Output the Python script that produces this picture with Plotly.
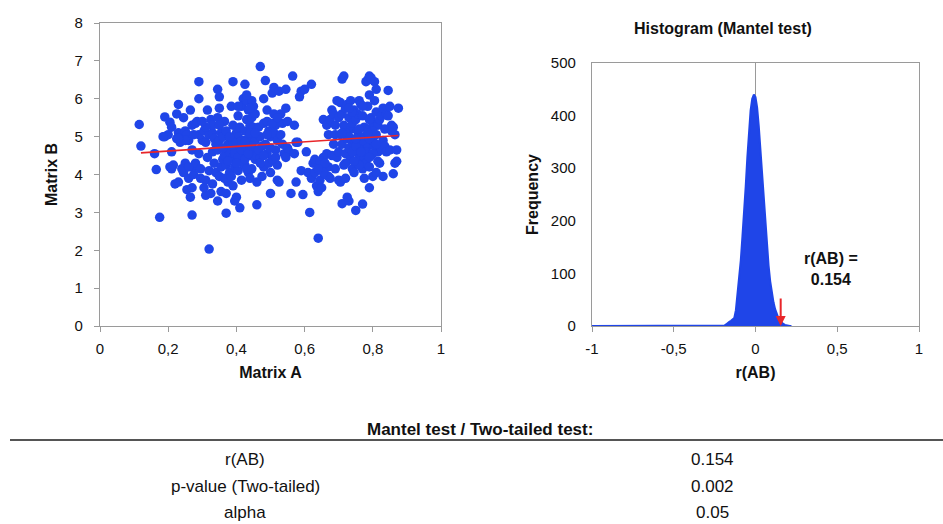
import plotly.graph_objects as go

# ---------------- data ----------------
# Scatter: Matrix A vs Matrix B
pts = [
    (0.115,5.32),(0.12,4.75),
    (0.16,4.55),(0.165,4.13),(0.175,2.87),
    (0.19,5.52),(0.19,5.0),(0.2,5.05),(0.185,5.0),
    (0.205,5.38),(0.21,5.25),(0.21,4.6),(0.205,4.2),(0.215,4.25),(0.21,4.15),
    (0.225,5.6),(0.23,5.85),(0.23,5.1),(0.225,4.95),(0.235,4.85),(0.22,3.75),(0.23,3.8),(0.24,5.0),
    (0.245,5.5),(0.25,5.15),(0.255,5.05),(0.25,4.3),(0.245,4.05),(0.26,3.9),(0.255,3.6),(0.26,4.9),
    (0.265,5.7),(0.27,5.3),(0.275,4.2),(0.265,3.4),(0.27,3.65),(0.27,2.93),(0.28,4.3),(0.275,4.0),(0.28,5.35),(0.27,4.65),
    (0.29,6.45),(0.29,6.0),(0.285,5.4),(0.29,4.55),(0.295,4.15),(0.3,4.9),(0.29,5.05),(0.295,3.9),
    (0.305,5.15),(0.31,4.85),(0.31,3.85),(0.31,3.45),(0.305,3.65),(0.315,4.45),(0.32,5.05),(0.32,2.03),(0.315,5.7),(0.32,4.1),
    (0.325,5.45),(0.33,5.1),(0.335,4.95),(0.33,4.6),(0.335,4.3),(0.33,3.75),(0.325,3.5),(0.34,4.05),(0.34,4.8),(0.33,5.3),
    (0.345,6.25),(0.35,6.05),(0.35,5.75),(0.345,5.5),(0.355,5.1),(0.35,4.9),(0.345,4.65),(0.355,4.2),(0.35,3.95),(0.345,3.3),(0.355,3.55),(0.36,5.0),(0.36,4.4),
    (0.365,5.4),(0.37,5.15),(0.375,4.8),(0.365,4.5),(0.37,4.25),(0.375,3.8),(0.37,3.5),(0.37,2.98),(0.38,4.05),(0.38,4.6),(0.365,3.9),
    (0.385,5.8),(0.39,6.45),(0.39,5.3),(0.385,4.95),(0.395,4.7),(0.39,4.45),(0.395,4.2),(0.385,3.95),(0.39,3.7),(0.4,4.9),(0.4,5.1),(0.4,3.4),(0.395,3.3),
    (0.405,5.55),(0.41,5.25),(0.405,5.0),(0.41,4.75),(0.415,4.55),(0.41,4.35),(0.405,4.1),(0.415,3.85),(0.41,3.12),(0.42,4.9),(0.42,4.6),(0.42,6.0),(0.415,5.8),(0.42,4.3),
    (0.425,6.38),(0.43,5.95),(0.435,5.7),(0.43,5.45),(0.425,5.15),(0.435,4.95),(0.43,4.7),(0.44,4.5),(0.425,4.25),(0.435,4.05),(0.44,3.9),(0.43,4.6),(0.44,5.3),
    (0.445,5.95),(0.45,5.8),(0.445,5.5),(0.45,5.25),(0.455,4.9),(0.45,4.65),(0.455,4.4),(0.445,4.15),(0.46,3.8),(0.46,3.2),(0.46,4.5),(0.455,5.6),
    (0.47,6.85),(0.465,5.25),(0.47,5.0),(0.475,4.75),(0.47,4.45),(0.48,4.2),(0.475,3.95),(0.48,6.0),(0.48,5.35),(0.47,4.3),
    (0.485,6.48),(0.49,5.7),(0.49,5.4),(0.495,5.15),(0.485,4.8),(0.49,4.55),(0.495,4.3),(0.5,4.05),(0.5,5.0),(0.5,3.5),
    (0.505,6.15),(0.51,6.3),(0.51,5.6),(0.515,5.3),(0.51,5.1),(0.52,4.9),(0.515,4.65),(0.52,4.25),(0.52,3.85),(0.505,4.4),
    (0.525,6.2),(0.53,5.6),(0.535,5.35),(0.53,5.05),(0.535,4.8),(0.54,4.55),(0.525,3.8),
    (0.545,6.25),(0.545,5.75),(0.55,5.4),(0.55,4.7),(0.555,4.6),(0.545,4.45),
    (0.565,6.6),(0.57,5.3),(0.57,4.55),(0.575,3.8),(0.56,3.5),(0.575,4.85),
    (0.585,6.05),(0.59,6.2),(0.59,4.1),(0.595,3.47),(0.58,4.85),
    (0.6,6.25),(0.605,4.6),(0.61,4.05),(0.615,3.0),(0.62,6.38),(0.62,3.9),
    (0.625,4.3),(0.63,4.05),(0.635,3.7),(0.64,3.55),(0.64,2.32),(0.63,4.4),
    (0.645,3.85),(0.65,4.2),(0.655,4.45),(0.645,4.35),(0.65,3.65),(0.655,5.45),(0.66,4.0),
    (0.665,5.3),(0.67,5.05),(0.665,4.55),(0.67,4.2),(0.675,3.9),(0.68,4.5),(0.68,5.7),(0.675,5.45),(0.67,3.95),
    (0.685,5.6),(0.69,5.3),(0.695,5.95),(0.69,5.05),(0.685,4.8),(0.695,4.45),(0.69,4.15),(0.7,3.85),(0.7,5.5),(0.7,4.6),
    (0.71,6.52),(0.715,6.6),(0.705,5.9),(0.71,5.6),(0.715,5.3),(0.705,5.05),(0.71,4.8),(0.72,4.55),(0.715,4.25),(0.705,3.8),(0.71,3.23),(0.72,3.9),(0.72,5.75),
    (0.725,5.85),(0.73,5.5),(0.735,5.2),(0.725,4.95),(0.73,4.7),(0.735,4.4),(0.74,4.15),(0.73,3.3),(0.725,3.4),(0.74,5.35),(0.74,4.85),(0.735,5.95),
    (0.745,5.7),(0.75,5.45),(0.755,5.15),(0.745,4.9),(0.75,4.6),(0.755,4.3),(0.745,4.05),(0.75,3.05),(0.76,5.95),(0.76,4.75),(0.76,4.45),(0.755,5.6),
    (0.765,5.85),(0.77,5.55),(0.775,5.25),(0.765,5.0),(0.77,4.7),(0.775,4.45),(0.77,4.15),(0.77,3.22),(0.78,6.45),(0.78,4.9),(0.78,4.3),(0.775,3.9),
    (0.785,6.5),(0.79,6.6),(0.795,6.55),(0.79,6.1),(0.785,5.8),(0.795,5.5),(0.79,5.2),(0.785,4.75),(0.795,4.5),(0.79,4.2),(0.79,3.65),(0.8,4.9),(0.8,5.35),(0.8,3.95),
    (0.805,6.45),(0.81,6.25),(0.805,5.95),(0.81,5.65),(0.815,5.3),(0.81,5.05),(0.805,4.75),(0.815,4.6),(0.82,4.3),(0.81,4.05),(0.82,5.45),(0.82,4.75),
    (0.825,5.55),(0.83,5.75),(0.835,5.2),(0.83,4.9),(0.825,4.65),(0.835,4.75),(0.83,3.95),(0.84,5.6),(0.84,4.6),
    (0.845,6.22),(0.85,5.8),(0.845,5.55),(0.855,5.3),(0.85,4.65),(0.855,5.15),(0.86,4.02),
    (0.86,5.25),(0.865,5.05),(0.865,4.3),(0.87,4.35),(0.875,5.75),(0.87,4.65),
    # extra points in the densest parts of the clouds
    (0.395,4.55),(0.405,4.45),(0.415,4.65),(0.425,4.4),(0.435,4.55),(0.4,4.3),(0.41,4.85),
    (0.445,4.75),(0.425,4.85),(0.39,4.85),(0.375,4.35),(0.36,4.7),(0.38,5.0),(0.43,4.15),
    (0.44,5.1),(0.455,5.1),(0.465,4.65),(0.405,5.8),(0.43,6.1),(0.44,5.75),(0.35,5.3),
    (0.31,5.25),(0.3,5.4),(0.275,5.05),(0.25,4.9),(0.24,4.15),(0.26,4.2),(0.23,4.95),
    (0.505,5.35),(0.52,5.5),(0.49,5.05),(0.48,4.5),(0.5,4.7),(0.515,4.45),
    (0.72,5.1),(0.73,5.0),(0.74,4.6),(0.75,4.75),(0.76,5.2),(0.77,4.9),(0.78,4.6),
    (0.79,4.95),(0.8,4.55),(0.81,4.8),(0.76,4.25),(0.75,4.95),(0.74,5.65),(0.73,5.75),
    (0.77,5.8),(0.79,5.45),(0.8,5.15),(0.71,5.1),(0.72,4.3),(0.79,4.45),(0.815,4.35),
    (0.745,4.35),(0.765,4.6),(0.785,5.1),(0.66,4.3),(0.655,4.05),(0.64,4.15),
]
matrix_a = [p[0] for p in pts]
matrix_b = [p[1] for p in pts]

# regression line
trend_a = [0.12, 0.875]
trend_b = [4.57, 5.03]

# Histogram of permuted r(AB)
hist_r = [-1.0, -0.20, -0.19, -0.18, -0.17, -0.16, -0.15, -0.14, -0.13, -0.12, -0.11,
          -0.10, -0.09, -0.08, -0.07, -0.06, -0.05, -0.04, -0.03, -0.02, -0.01,
          0.00, 0.01, 0.02, 0.03, 0.04, 0.05, 0.06, 0.07, 0.08, 0.09,
          0.10, 0.11, 0.12, 0.13, 0.14, 0.15, 0.16, 0.17, 0.18, 0.19, 0.20, 0.21, 0.22]
hist_freq = [0, 0, 1, 3, 6, 8, 10, 12, 15, 30, 60,
             95, 125, 170, 210, 265, 320, 365, 410, 432, 440,
             435, 415, 380, 335, 290, 240, 195, 150, 115, 85,
             62, 45, 32, 22, 15, 10, 6, 4, 2, 1, 1, 0, 0]

r_ab = 0.154
arrow_top = 55

scatter_xticks = [0, 0.2, 0.4, 0.6, 0.8, 1]
scatter_xticktext = ["0", "0,2", "0,4", "0,6", "0,8", "1"]
scatter_yticks = [0, 1, 2, 3, 4, 5, 6, 7, 8]
hist_xticks = [-1, -0.5, 0, 0.5, 1]
hist_xticktext = ["-1", "-0,5", "0", "0,5", "1"]
hist_yticks = [0, 100, 200, 300, 400, 500]

table_title = "Mantel test / Two-tailed test:"
table_labels = ["r(AB)", "p-value (Two-tailed)", "alpha"]
table_values = ["0.154", "0.002", "0.05"]

# ---------------- figure ----------------
W, H = 943, 524
FONT = "Liberation Sans, Arial, sans-serif"
BLUE = "#1f45e8"
FRAME = "#9a9a9a"
TXT = "#111"

def px_x(p):
    return p / W

def px_y(p):
    return 1 - p / H

fig = go.Figure()

fig.add_trace(go.Scatter(
    x=matrix_a, y=matrix_b, mode="markers",
    marker=dict(color=BLUE, size=9.5, line=dict(width=0)),
    xaxis="x", yaxis="y", showlegend=False))

fig.add_trace(go.Scatter(
    x=trend_a, y=trend_b, mode="lines",
    line=dict(color="#e8262a", width=1.6),
    xaxis="x", yaxis="y", showlegend=False))

fig.add_trace(go.Scatter(
    x=hist_r, y=hist_freq, mode="lines", fill="tozeroy",
    line=dict(color=BLUE, width=2),
    fillcolor=BLUE, xaxis="x2", yaxis="y2", showlegend=False))

axis_common = dict(
    showline=True, mirror=True, linecolor=FRAME, linewidth=1.2,
    showgrid=False, automargin=False,
    tickfont=dict(family=FONT, size=15, color=TXT),
)
title_font = dict(family=FONT, size=16, color=TXT)

fig.update_layout(
    width=W, height=H,
    margin=dict(l=0, r=0, t=0, b=0),
    paper_bgcolor="white", plot_bgcolor="white",
    xaxis=dict(domain=[px_x(100), px_x(441)], range=[0, 1],
               tickvals=scatter_xticks, ticktext=scatter_xticktext,
               ticks="outside", ticklen=5, tickcolor=FRAME, ticklabelstandoff=4,
               zeroline=False,
               title=dict(text="<b>Matrix A</b>", standoff=10, font=title_font),
               anchor="y", **axis_common),
    yaxis=dict(domain=[px_y(326), px_y(23)], range=[0, 8],
               tickvals=scatter_yticks, zeroline=False,
               ticks="outside", ticklen=5, tickcolor=FRAME, ticklabelstandoff=8,
               title=dict(text="<b>Matrix B</b>", standoff=12, font=title_font),
               anchor="x", **axis_common),
    xaxis2=dict(domain=[px_x(592), px_x(919)], range=[-1, 1],
                tickvals=hist_xticks, ticktext=hist_xticktext,
                ticks="outside", ticklen=5, tickcolor=FRAME, ticklabelstandoff=4,
                zeroline=True, zerolinecolor=FRAME, zerolinewidth=1.2,
                title=dict(text="<b>r(AB)</b>", standoff=10, font=title_font),
                anchor="y2", **axis_common),
    yaxis2=dict(domain=[px_y(326), px_y(63)], range=[0, 500],
                tickvals=hist_yticks, ticks="", ticklabelstandoff=12, zeroline=False,
                title=dict(text="<b>Frequency</b>", standoff=8, font=title_font),
                anchor="x2", **axis_common),
)

annotations = [
    dict(text="<b>Histogram (Mantel test)</b>", xref="paper", yref="paper",
         x=px_x(723), y=px_y(29), xanchor="center", yanchor="middle",
         showarrow=False, font=dict(family=FONT, size=16, color=TXT)),
    dict(text="<b>r(AB) =<br>0.154</b>", xref="x2", yref="y2",
         x=0.46, y=108, xanchor="center", yanchor="middle",
         showarrow=False, align="center",
         font=dict(family=FONT, size=16, color=TXT)),
    dict(text="", xref="x2", yref="y2", x=r_ab, y=0,
         axref="x2", ayref="y2", ax=r_ab, ay=arrow_top,
         showarrow=True, arrowhead=2, arrowsize=1, arrowwidth=2,
         arrowcolor="#e8262a"),
    dict(text="<b>" + table_title + "</b>", xref="paper", yref="paper",
         x=px_x(480), y=px_y(429), xanchor="center", yanchor="middle",
         showarrow=False, font=dict(family=FONT, size=17, color=TXT)),
]
row_y = [459, 486, 512]
for lab, val, yy in zip(table_labels, table_values, row_y):
    annotations.append(dict(text=lab, xref="paper", yref="paper",
                            x=px_x(245), y=px_y(yy), xanchor="center", yanchor="middle",
                            showarrow=False, font=dict(family=FONT, size=17, color=TXT)))
    annotations.append(dict(text=val, xref="paper", yref="paper",
                            x=px_x(712), y=px_y(yy), xanchor="center", yanchor="middle",
                            showarrow=False, font=dict(family=FONT, size=17, color=TXT)))
fig.update_layout(annotations=annotations)

fig.add_shape(type="line", xref="paper", yref="paper",
              x0=px_x(10), x1=1, y0=px_y(440), y1=px_y(440),
              line=dict(color="#555", width=2))

fig.write_html("out.html")
